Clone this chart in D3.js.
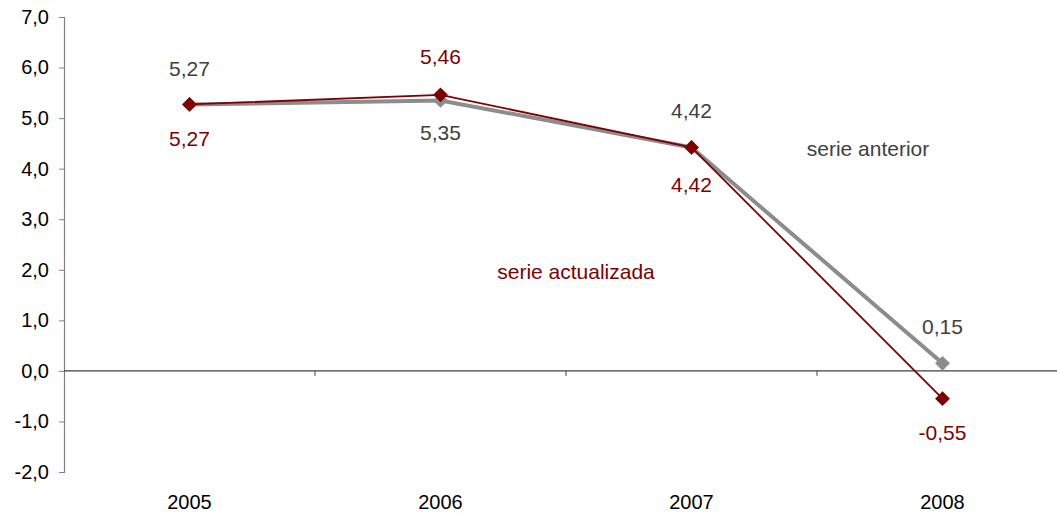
<!DOCTYPE html>
<html>
<head>
<meta charset="utf-8">
<script src="https://cdn.jsdelivr.net/npm/d3@7"></script>
<style>
  body { margin: 0; background: #fff; }
  text { font-family: "Liberation Sans", Arial, sans-serif; }
</style>
</head>
<body>
<div id="chart"></div>
<script>
const years = ["2005", "2006", "2007", "2008"];
const anterior = [5.27, 5.35, 4.42, 0.15];
const actualizada = [5.27, 5.46, 4.42, -0.55];
const yTicks = [-2, -1, 0, 1, 2, 3, 4, 5, 6, 7];

const width = 1057, height = 515;
const svg = d3.select("#chart").append("svg")
  .attr("width", width)
  .attr("height", height);

const fmt = v => d3.format(".2f")(v).replace(".", ",").replace("−", "-");
const fmtAxis = v => d3.format(".1f")(v).replace(".", ",").replace("−", "-");

// band scale for categories, axis at x=64
const x = d3.scaleBand().domain(years).range([64, 64 + 4 * 251]);
const y = d3.scaleLinear().domain([-2, 7]).range([472, 17]);
const cx = d => x(d) + x.bandwidth() / 2;

// y axis
const yAxis = svg.append("g")
  .attr("transform", "translate(64,0)")
  .call(d3.axisLeft(y).tickValues(yTicks).tickSize(5).tickFormat(fmtAxis));
yAxis.select(".domain").attr("stroke", "#808080").attr("stroke-width", 1.2);
yAxis.selectAll(".tick line").attr("stroke", "#808080");
yAxis.selectAll(".tick text")
  .attr("x", -15)
  .style("font-size", "20px")
  .attr("fill", "#000");

// zero line with category ticks
svg.append("line")
  .attr("x1", 64).attr("x2", width)
  .attr("y1", y(0)).attr("y2", y(0))
  .attr("stroke", "#404040").attr("stroke-width", 1.2);
svg.selectAll(".xtick")
  .data(years.slice(1))
  .join("line")
  .attr("x1", d => x(d)).attr("x2", d => x(d))
  .attr("y1", y(0)).attr("y2", y(0) + 5)
  .attr("stroke", "#404040");

// category labels
svg.selectAll(".xlab")
  .data(years)
  .join("text")
  .attr("x", d => cx(d))
  .attr("y", 509)
  .attr("text-anchor", "middle")
  .style("font-size", "20px")
  .text(d => d);

const line = d3.line().x((d, i) => cx(years[i])).y(d => y(d));
const diamond = d3.symbol().type(d3.symbolDiamond2).size(140);

// serie anterior (grey, thick)
svg.append("path")
  .datum(anterior)
  .attr("d", line)
  .attr("fill", "none")
  .attr("stroke", "#8c8c8c")
  .attr("stroke-width", 4);
svg.selectAll(".mAnt")
  .data(anterior)
  .join("path")
  .attr("d", diamond)
  .attr("transform", (d, i) => `translate(${cx(years[i])},${y(d)})`)
  .attr("fill", "#8c8c8c");

// serie actualizada (dark red, thin)
svg.append("path")
  .datum(actualizada)
  .attr("d", line)
  .attr("fill", "none")
  .attr("stroke", "#800000")
  .attr("stroke-width", 1.8);
svg.selectAll(".mAct")
  .data(actualizada)
  .join("path")
  .attr("d", diamond)
  .attr("transform", (d, i) => `translate(${cx(years[i])},${y(d)})`)
  .attr("fill", "#800000");

// data labels
const antOffset = [-36, 32, -37, -37];
const actOffset = [34, -38, 37, 34];
svg.selectAll(".lAnt")
  .data(anterior)
  .join("text")
  .attr("x", (d, i) => cx(years[i]))
  .attr("y", (d, i) => y(d) + antOffset[i])
  .attr("dy", "0.35em")
  .attr("text-anchor", "middle")
  .style("font-size", "21px")
  .attr("fill", "#404040")
  .text(fmt);
svg.selectAll(".lAct")
  .data(actualizada)
  .join("text")
  .attr("x", (d, i) => cx(years[i]))
  .attr("y", (d, i) => y(d) + actOffset[i])
  .attr("dy", "0.35em")
  .attr("text-anchor", "middle")
  .style("font-size", "21px")
  .attr("fill", "#800000")
  .text(fmt);

// series names
svg.append("text")
  .attr("x", 868).attr("y", 149)
  .attr("dy", "0.35em")
  .attr("text-anchor", "middle")
  .style("font-size", "21px")
  .attr("fill", "#404040")
  .text("serie anterior");
svg.append("text")
  .attr("x", 576).attr("y", 272)
  .attr("dy", "0.35em")
  .attr("text-anchor", "middle")
  .style("font-size", "21px")
  .attr("fill", "#800000")
  .text("serie actualizada");
</script>
</body>
</html>
